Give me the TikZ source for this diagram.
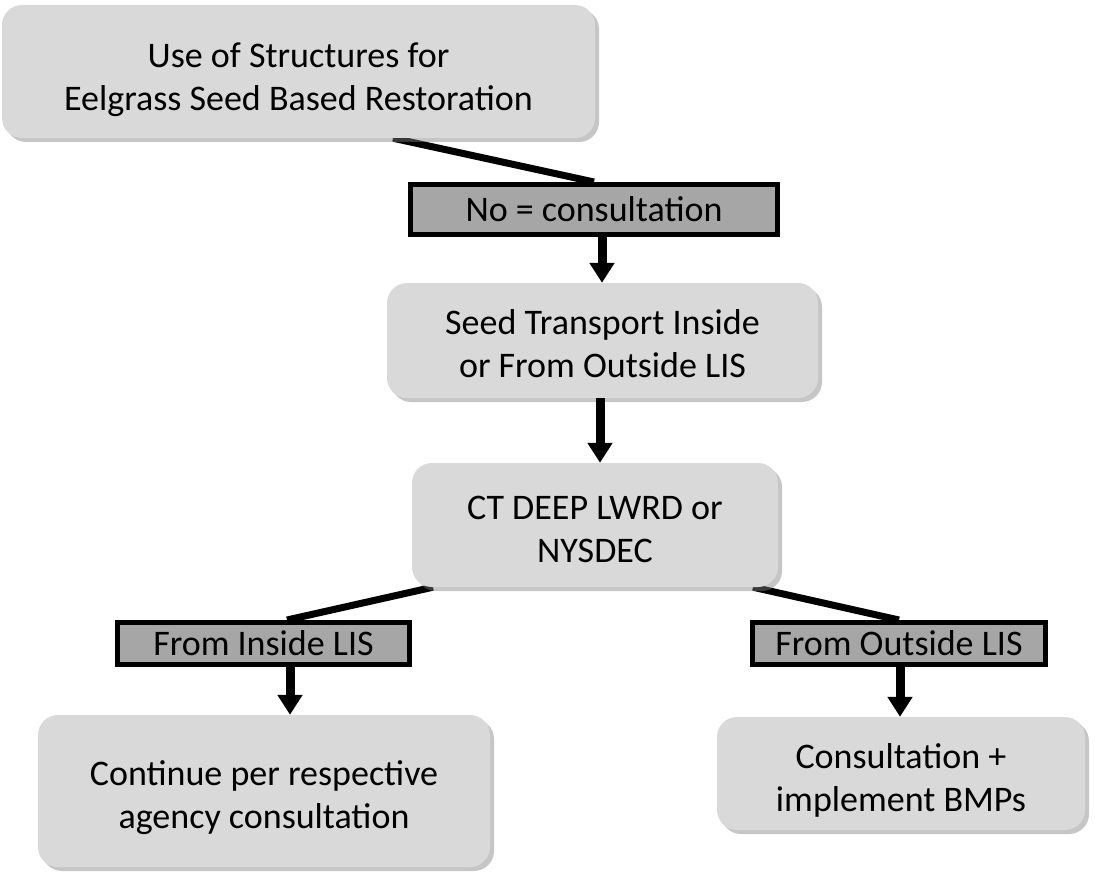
\documentclass[tikz,border=0pt]{standalone}
\usepackage{fontspec}
\setmainfont{Carlito}
\usetikzlibrary{shadows,arrows.meta}
\pgfdeclarelayer{bg}
\pgfsetlayers{bg,main}
\definecolor{boxgray}{HTML}{D9D9D9}
\definecolor{labgray}{HTML}{A6A6A6}
\newcommand\twolines[3][41pt]{\rule{0pt}{#1}#2\\#3\rule[-9pt]{0pt}{9pt}}
\begin{document}
\begin{tikzpicture}[x=1pt,y=-1pt,
  box/.style={draw=none, fill=boxgray, rounded corners=20pt, align=center, inner sep=0pt,
    font=\fontsize{36}{43}\selectfont,
    drop shadow={opacity=0.45, shadow xshift=4pt, shadow yshift=-4pt}},
  lab/.style={draw=black, line width=5pt, fill=labgray, align=center, inner sep=0pt,
    font=\fontsize{36}{43}\selectfont},
  conn/.style={line width=7pt, black},
  arr/.style={line width=9pt, black, -{Triangle[width=24pt,length=20pt]}}]
\useasboundingbox (0,0) rectangle (1095,872);
\node[box, minimum width=593pt, minimum height=133pt] (top) at (298.5,71.5) {\twolines[45pt]{Use of Structures for}{Eelgrass Seed Based Restoration}};
\node[box, minimum width=431pt, minimum height=115pt] (b2) at (602.5,340.5) {\twolines[39pt]{Seed Transport Inside}{or From Outside LIS}};
\node[box, minimum width=366pt, minimum height=124pt] (b3) at (595,525) {\twolines{CT DEEP LWRD or}{NYSDEC}};
\node[box, minimum width=452pt, minimum height=152pt] (b4) at (264,791) {\twolines{Continue per respective}{agency consultation}};
\node[box, minimum width=368pt, minimum height=113pt] (b5) at (901,773.5) {\twolines{Consultation +}{implement BMPs}};
\node[lab, minimum width=367pt, minimum height=50pt] (l1) at (594,209.5) {No = consultation};
\node[lab, minimum width=292pt, minimum height=42pt] (l2) at (263.5,643.5) {From Inside LIS};
\node[lab, minimum width=293pt, minimum height=42pt] (l3) at (899,643.5) {From Outside LIS};
\begin{pgfonlayer}{bg}
\draw[conn] ([xshift=94.5pt]top.south) -- (l1.north);
\draw[conn] ([xshift=-162pt]b3.south) -- ([xshift=23.5pt]l2.north);
\draw[conn] ([xshift=158pt]b3.south) -- (l3.north);
\end{pgfonlayer}
\draw[arr] ([xshift=8pt]l1.south) -- ([xshift=8pt]l1.south |- b2.north);
\draw[arr] ([xshift=-2.5pt]b2.south) -- ([xshift=-2.5pt]b2.south |- b3.north);
\draw[arr] ([xshift=26.5pt]l2.south) -- ([xshift=26.5pt]l2.south |- b4.north);
\draw[arr] ([xshift=1pt]l3.south) -- ([xshift=1pt]l3.south |- b5.north);
\end{tikzpicture}
\end{document}
